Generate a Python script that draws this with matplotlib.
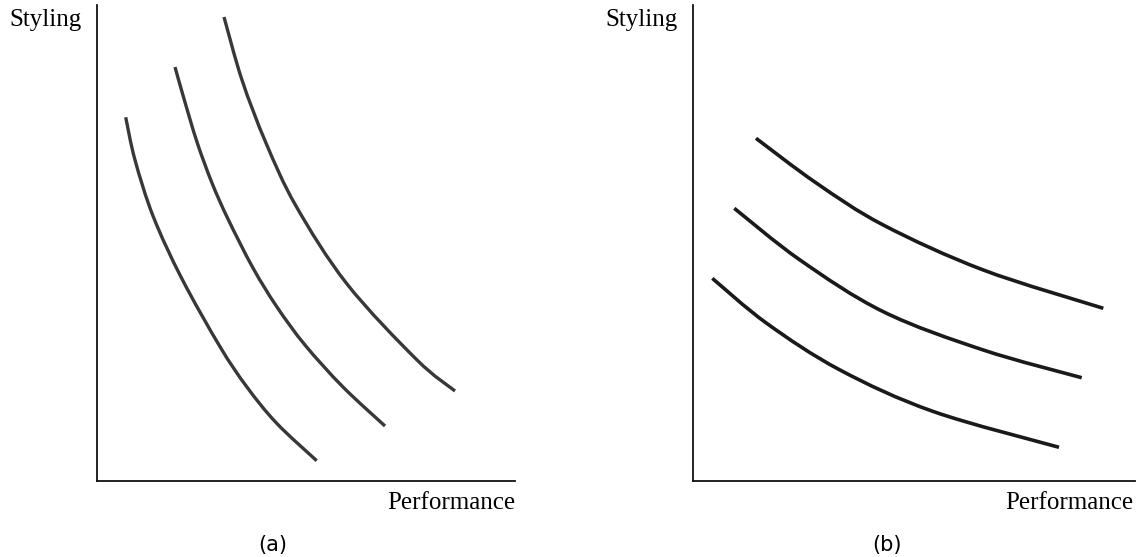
import matplotlib
matplotlib.use("Agg")
import matplotlib.pyplot as plt
from matplotlib.path import Path
from matplotlib.patches import PathPatch

# ---- data (arbitrary units, axes span 0..100) ----
# panel (a)
a1_x = [6.87, 9.09, 13.47, 20.26, 29.43, 35.81, 42.99, 52.56]
a1_y = [76.41, 67.44, 55.53, 42.58, 28.21, 19.81, 12.12, 4.26]
a2_x = [18.66, 20.69, 23.92, 27.51, 31.34, 37.32, 43.06, 49.76, 58.85, 68.90]
a2_y = [86.97, 80.67, 71.22, 62.61, 55.04, 44.75, 36.55, 28.57, 19.75, 11.55]
a3_x = [30.38, 34.69, 40.43, 47.61, 59.81, 76.56, 85.65]
a3_y = [97.48, 84.24, 71.01, 57.77, 41.39, 25.42, 18.91]

# panel (b)
b1_x = [4.37, 16.67, 33.26, 54.37, 82.81]
b1_y = [42.58, 33.13, 23.32, 14.60, 7.08]
b2_x = [9.34, 24.21, 43.05, 65.68, 87.94]
b2_y = [57.29, 46.43, 35.57, 27.52, 21.70]
b3_x = [14.25, 27.99, 43.05, 65.68, 92.83]
b3_y = [72.00, 62.54, 53.78, 44.33, 36.28]

x_label = "Performance"
y_label = "Styling"
panel_labels = ["(a)", "(b)"]

W, H = 1137, 557
fig = plt.figure(figsize=(W / 100, H / 100), dpi=100)

def px_rect(x0, y_top, x1, y_bot):
    return [x0 / W, 1 - y_bot / H, (x1 - x0) / W, (y_bot - y_top) / H]

serif = ["Liberation Serif", "DejaVu Serif"]

def setup(ax):
    ax.set_xlim(0, 100)
    ax.set_ylim(0, 100)
    for s in ["top", "right"]:
        ax.spines[s].set_visible(False)
    for s in ["left", "bottom"]:
        ax.spines[s].set_linewidth(1.3)
        ax.spines[s].set_color("#111111")
    ax.set_xticks([])
    ax.set_yticks([])
    ax.patch.set_alpha(0)

def smooth_curve(ax, xs, ys, color, lw):
    # smooth Catmull-Rom style rendering through the read points
    pts = list(zip(xs, ys))
    n = len(pts)
    verts = [pts[0]]
    codes = [Path.MOVETO]
    for i in range(n - 1):
        p0 = pts[i - 1] if i > 0 else pts[i]
        p1 = pts[i]
        p2 = pts[i + 1]
        p3 = pts[i + 2] if i + 2 < n else pts[i + 1]
        c1 = (p1[0] + (p2[0] - p0[0]) / 6, p1[1] + (p2[1] - p0[1]) / 6)
        c2 = (p2[0] - (p3[0] - p1[0]) / 6, p2[1] - (p3[1] - p1[1]) / 6)
        verts += [c1, c2, p2]
        codes += [Path.CURVE4] * 3
    patch = PathPatch(Path(verts, codes), fill=False, edgecolor=color, lw=lw,
                      capstyle="butt", joinstyle="round", transform=ax.transData)
    ax.add_patch(patch)

axa = fig.add_axes(px_rect(97, 5, 515, 481))
axb = fig.add_axes(px_rect(693, 5, 1135, 481))
setup(axa)
setup(axb)

ca = "#383838"
for xs, ys in [(a1_x, a1_y), (a2_x, a2_y), (a3_x, a3_y)]:
    smooth_curve(axa, xs, ys, ca, 2.4)
cb = "#1a1a1a"
for xs, ys in [(b1_x, b1_y), (b2_x, b2_y), (b3_x, b3_y)]:
    smooth_curve(axb, xs, ys, cb, 2.6)

fs = 18
fig.text(82 / W, 1 - 20 / H, y_label, ha="right", va="center", fontsize=fs, family=serif)
fig.text(678 / W, 1 - 20 / H, y_label, ha="right", va="center", fontsize=fs, family=serif)
fig.text(515 / W, 1 - 503 / H, x_label, ha="right", va="center", fontsize=fs, family=serif)
fig.text(1133 / W, 1 - 503 / H, x_label, ha="right", va="center", fontsize=fs, family=serif)
fig.text(273 / W, 1 - 545 / H, panel_labels[0], ha="center", va="center", fontsize=15, family="DejaVu Sans")
fig.text(887 / W, 1 - 545 / H, panel_labels[1], ha="center", va="center", fontsize=15, family="DejaVu Sans")

fig.savefig("out.png", dpi=100)
